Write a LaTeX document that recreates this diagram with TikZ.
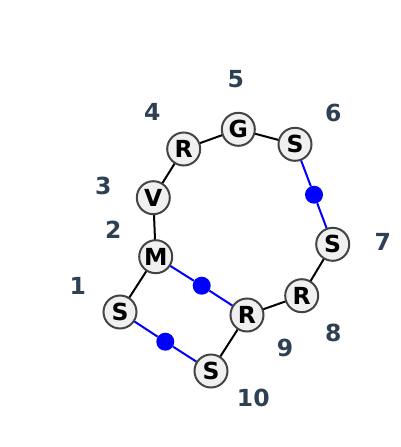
\documentclass[tikz,border=0pt]{standalone}
\usepackage{fontspec}
\setmainfont{DejaVu Sans}
\usepackage{tikz}
\definecolor{numcol}{RGB}{46,64,83}
\definecolor{nodefill}{RGB}{240,240,240}
\definecolor{nodeline}{RGB}{68,68,68}

\begin{document}
\begin{tikzpicture}[x=1pt,y=-1pt,
    rnode/.style={draw=nodeline,fill=nodefill,circle,line width=2pt,minimum size=33pt,inner sep=0pt,font=\fontsize{23.5}{28}\selectfont\bfseries},
    dnode/.style={fill=blue,circle,minimum size=18pt,inner sep=0pt},
    num/.style={text=numcol,font=\fontsize{23.5}{28}\selectfont\bfseries},
    bond/.style={line width=2pt},
    link/.style={line width=2pt,blue}]
    \useasboundingbox (0,0) rectangle (400,447);

    \node[num] (l1) at (77.7,285.7) {1};
    \node[num] (l2) at (113.3,230) {2};
    \node[num] (l3) at (103.3,186) {3};
    \node[num] (l4) at (152.3,111.7) {4};
    \node[num] (l5) at (235.7,79) {5};
    \node[num] (l6) at (333.3,113.3) {6};
    \node[num] (l7) at (382.7,241.7) {7};
    \node[num] (l8) at (333.3,333.3) {8};
    \node[num] (l9) at (285,348.3) {9};
    \node[num] (l10) at (253.3,398.3) {10};

    \node[dnode] (d1) at (314,194.7) {};
    \node[dnode] (d2) at (201.7,285.7) {};
    \node[dnode] (d3) at (165.3,341.7) {};

    \coordinate (p1) at (120,312);
    \coordinate (p2) at (155.7,256.7);
    \coordinate (p3) at (153.3,197.7);
    \coordinate (p4) at (183.7,149);
    \coordinate (p5) at (238.3,129.3);
    \coordinate (p6) at (295,144.3);
    \coordinate (p7) at (332.7,244.3);
    \coordinate (p8) at (301.7,295.7);
    \coordinate (p9) at (247,315);
    \coordinate (p10) at (211,371);

    \draw[bond] (p1) -- (p2) -- (p3) -- (p4) -- (p5) -- (p6);
    \draw[bond] (p7) -- (p8) -- (p9) -- (p10);
    \draw[link] (p6) -- (d1) -- (p7);
    \draw[link] (p2) -- (d2) -- (p9);
    \draw[link] (p1) -- (d3) -- (p10);

    \node[rnode] (1) at (p1) {S};
    \node[rnode] (2) at (p2) {M};
    \node[rnode] (3) at (p3) {V};
    \node[rnode] (4) at (p4) {R};
    \node[rnode] (5) at (p5) {G};
    \node[rnode] (6) at (p6) {S};
    \node[rnode] (7) at (p7) {S};
    \node[rnode] (8) at (p8) {R};
    \node[rnode] (9) at (p9) {R};
    \node[rnode] (10) at (p10) {S};
\end{tikzpicture}
\end{document}
